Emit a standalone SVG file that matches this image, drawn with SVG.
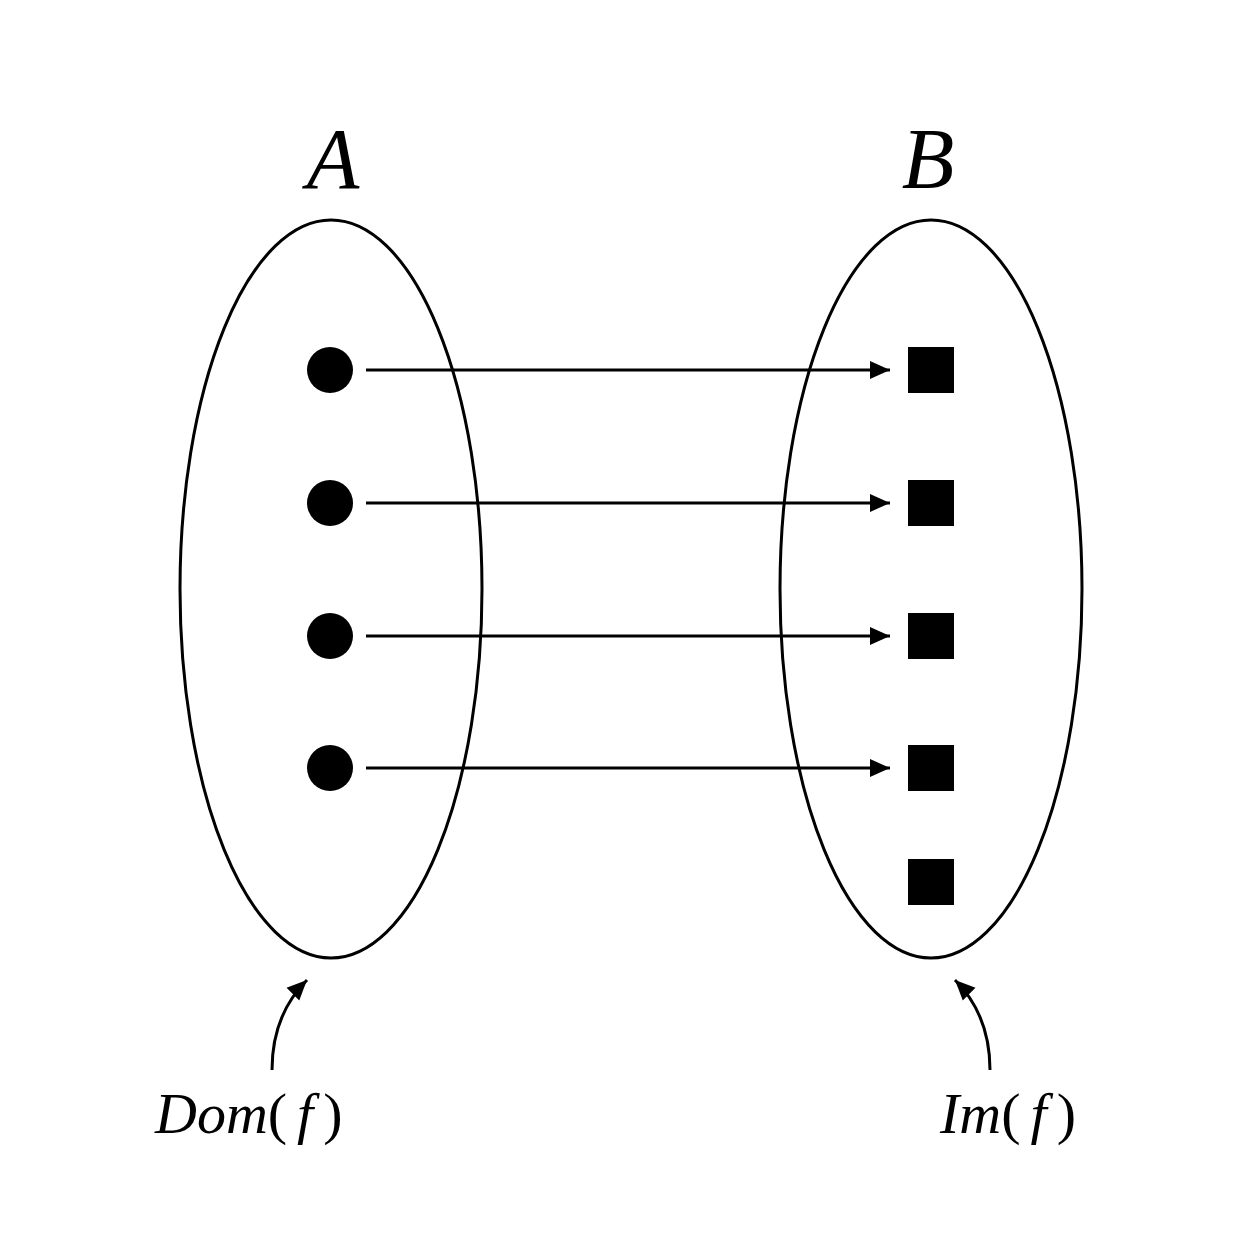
<svg xmlns="http://www.w3.org/2000/svg" width="1254" height="1254" viewBox="0 0 1254 1254">
<style>
.set{fill:none;stroke:#000;stroke-width:3}
.c{stroke:#000;stroke-width:3;fill:none}
.t{font-family:"Liberation Serif",serif;font-style:italic;fill:#000}
.u{font-style:normal}
</style>
<defs>
<marker id="ah2" markerWidth="22" markerHeight="22" refX="20" refY="11" orient="auto" markerUnits="userSpaceOnUse" viewBox="0 0 22 22">
<path d="M0,2 L20,11 L0,20 Z" fill="#000"/>
</marker>
</defs>
<rect width="1254" height="1254" fill="#fff"/>
<g id="setA"><ellipse class="set" cx="331" cy="589" rx="151" ry="369"/>
<text class="t" x="333" y="188" font-size="86" text-anchor="middle">A</text></g>
<g id="setB"><ellipse class="set" cx="931" cy="589" rx="151" ry="369"/>
<text class="t" x="928" y="188" font-size="86" text-anchor="middle">B</text></g>
<g id="domain">
<circle cx="330" cy="370" r="23"/><circle cx="330" cy="503" r="23"/><circle cx="330" cy="636" r="23"/><circle cx="330" cy="768" r="23"/>
</g>
<g id="codomain">
<rect x="908" y="347" width="46" height="46"/><rect x="908" y="480" width="46" height="46"/><rect x="908" y="613" width="46" height="46"/><rect x="908" y="745" width="46" height="46"/><rect x="908" y="859" width="46" height="46"/>
</g>
<g id="connectors">
<line class="c" x1="366" y1="370" x2="890" y2="370" marker-end="url(#ah2)"/>
<line class="c" x1="366" y1="503" x2="890" y2="503" marker-end="url(#ah2)"/>
<line class="c" x1="366" y1="636" x2="890" y2="636" marker-end="url(#ah2)"/>
<line class="c" x1="366" y1="768" x2="890" y2="768" marker-end="url(#ah2)"/>
<path class="c" d="M272,1070 Q272,1015 307,980" marker-end="url(#ah2)"/>
<path class="c" d="M990,1070 Q990,1015 955,980" marker-end="url(#ah2)"/>
</g>
<g id="labels">
<text class="t" x="155" y="1133" font-size="58">Dom<tspan class="u">(</tspan><tspan dx="10">f</tspan><tspan class="u" dx="10">)</tspan></text>
<text class="t" x="940" y="1133" font-size="58">Im<tspan class="u">(</tspan><tspan dx="10">f</tspan><tspan class="u" dx="10">)</tspan></text>
</g>
</svg>
